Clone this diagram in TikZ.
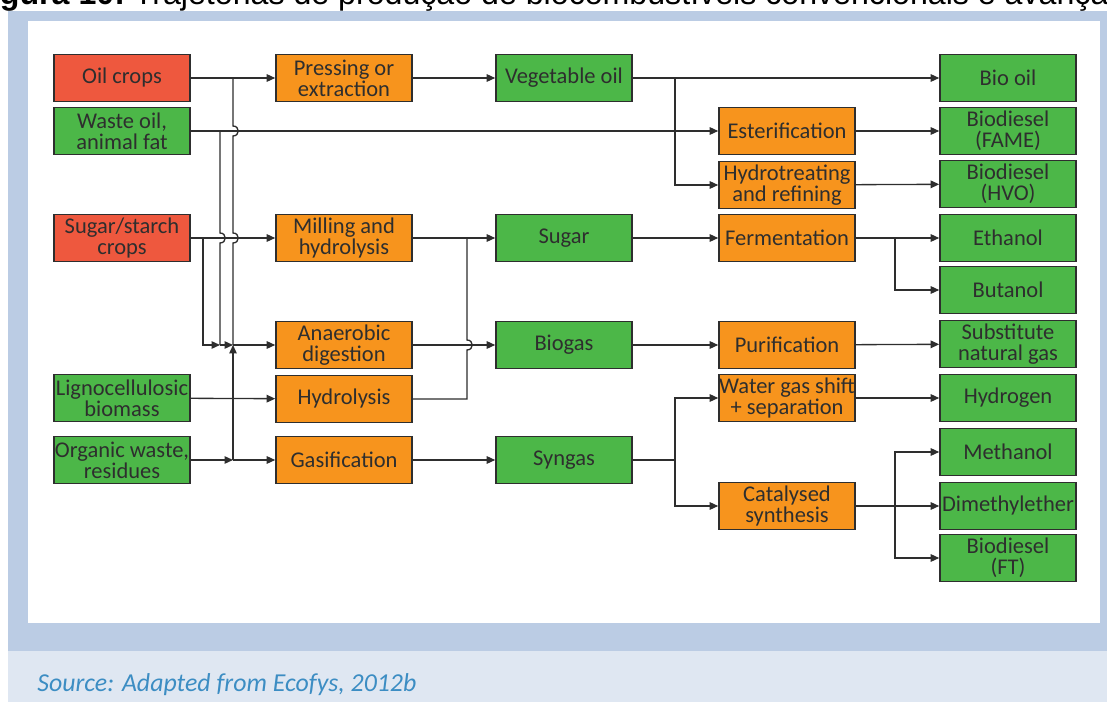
\documentclass[tikz,border=0pt]{standalone}
\usepackage{fontspec}
\setmainfont{Carlito}
\newfontfamily\capfont{Liberation Sans}
\usepackage{xcolor}
\usepackage{tikz}
\usetikzlibrary{arrows.meta}

\definecolor{feedred}{HTML}{EE583E}
\definecolor{procorange}{HTML}{F7941D}
\definecolor{prodgreen}{HTML}{4CB748}
\definecolor{frameblue}{HTML}{BBCCE4}
\definecolor{bandblue}{HTML}{DFE7F2}
\definecolor{srcblue}{HTML}{3C8DC3}
\definecolor{inkgray}{HTML}{2E2E2E}

\tikzset{
  box/.style={draw=inkgray, line width=0.9pt, minimum width=2.72cm, minimum height=0.94cm,
    inner sep=0pt, align=center, text=inkgray, font=\fontsize{12.8}{12}\selectfont},
  feed/.style={box, fill=feedred},
  proc/.style={box, fill=procorange},
  prod/.style={box, fill=prodgreen},
  link/.style={draw=inkgray, line width=0.75pt},
  flow/.style={link, -{Triangle[length=1.7mm,width=1.5mm]}},
}

\begin{document}
\begin{tikzpicture}[x=0.02cm, y=-0.02cm]
    \useasboundingbox (0,0) rectangle (1107,702);

    % Frame and caption
    \fill[bandblue] (8,651) rectangle (1107,702);
    \fill[frameblue] (8,11) rectangle (1107,651);
    \fill[white] (28,21) rectangle (1100,623);
    \node[anchor=base west, inner sep=0, font=\capfont\fontsize{18.3}{20}\selectfont] (caption) at (-29,5)
        {\bfseries Figura 10:\mdseries\ Trajetórias de produção de biocombustíveis convencionais e avançados};
    \node[anchor=base west, inner sep=0, text=srcblue, font=\itshape\fontsize{14.7}{16}\selectfont] (source) at (37,692)
        {Source: Adapted from Ecofys, 2012b};

    % Feedstocks
    \node[feed] (oilcrops) at (122,78) {Oil crops};
    \node[prod] (wasteoil) at (122,131) {Waste oil,\\animal fat};
    \node[feed] (sugarcrops) at (122,238) {Sugar/starch\\crops};
    \node[prod] (ligno) at (122,398) {Lignocellulosic\\biomass};
    \node[prod] (orgwaste) at (122,460) {Organic waste,\\residues};

    % Conversion steps
    \node[proc] (press) at (344,78) {Pressing or\\extraction};
    \node[proc] (milling) at (344,238) {Milling and\\hydrolysis};
    \node[proc] (anaer) at (344,345) {Anaerobic\\digestion};
    \node[proc] (hydrol) at (344,399) {Hydrolysis};
    \node[proc] (gasif) at (344,460) {Gasification};

    % Intermediates
    \node[prod] (vegoil) at (564,78) {Vegetable oil};
    \node[prod] (sugar) at (564,238) {Sugar};
    \node[prod] (biogas) at (564,345) {Biogas};
    \node[prod] (syngas) at (564,460) {Syngas};

    % Upgrading
    \node[proc] (ester) at (787,131) {Esterification};
    \node[proc] (hydrot) at (787,185) {Hydrotreating\\and refining};
    \node[proc] (ferm) at (787,238) {Fermentation};
    \node[proc] (purif) at (787,345) {Purification};
    \node[proc] (wgs) at (787,398) {Water gas shift\\+ separation};
    \node[proc] (catal) at (787,506) {Catalysed\\synthesis};

    % Biofuels
    \node[prod] (biooil) at (1008,78) {Bio oil};
    \node[prod] (fame) at (1008,131) {Biodiesel\\(FAME)};
    \node[prod] (hvo) at (1008,184) {Biodiesel\\(HVO)};
    \node[prod] (ethanol) at (1008,238) {Ethanol};
    \node[prod] (butanol) at (1008,290) {Butanol};
    \node[prod] (sng) at (1008,344) {Substitute\\natural gas};
    \node[prod] (hydrogen) at (1008,398) {Hydrogen};
    \node[prod] (methanol) at (1008,452) {Methanol};
    \node[prod] (dme) at (1008,506) {Dimethylether};
    \node[prod] (ftdiesel) at (1008,558) {Biodiesel\\(FT)};

    % Branch points
    \coordinate (oilbr) at (233,78);
    \coordinate (wastebr) at (220,131);
    \coordinate (sugbr) at (203,238);
    \coordinate (jw) at (220,345);
    \coordinate (jn) at (233,345);
    \coordinate (orgbr) at (233,460);
    \coordinate (hydbr) at (467,238);
    \coordinate (vegbr) at (675,78);
    \coordinate (fermbr) at (895,238);
    \coordinate (synbr) at (675,460);
    \coordinate (catbr) at (895,506);

    % Feedstock lines (vertical ones hop over the horizontals)
    \draw[flow] (oilcrops) -- (press);
    \draw[flow] (wasteoil) -- (ester);
    \draw[flow] (sugarcrops) -- (milling);
    \draw[flow] (ligno) -- (hydrol);
    \draw[link] (oilbr) -- (233,126) .. controls +(7,0) and +(7,0) .. (233,136)
        -- (233,233) .. controls +(7,0) and +(7,0) .. (233,243) -- (jn);
    \draw[link] (wastebr) -- (220,233) .. controls +(7,0) and +(7,0) .. (220,243) -- (jw);
    \draw[flow] (sugbr) |- (jw);
    \draw[flow] (jw) -- (jn);
    \draw[flow] (orgwaste) -- (orgbr);
    \draw[flow] (orgbr) -- (gasif);
    \draw[flow] (orgbr) -- (jn);
    \draw[flow] (jn) -- (anaer);

    % Middle
    \draw[flow] (press) -- (vegoil);
    \draw[flow] (milling) -- (sugar);
    \draw[link] (hydrol) -- (467,399) -- (467,350) .. controls +(7,0) and +(7,0) .. (467,340) -- (hydbr);
    \draw[flow] (anaer) -- (biogas);
    \draw[flow] (gasif) -- (syngas);

    % Right half
    \draw[flow] (vegoil) -- (biooil);
    \draw[flow] (vegbr) |- (hydrot);
    \draw[flow] (ester) -- (fame);
    \draw[flow] (hydrot) -- (hvo);
    \draw[flow] (sugar) -- (ferm);
    \draw[flow] (ferm) -- (ethanol);
    \draw[flow] (fermbr) |- (butanol);
    \draw[flow] (biogas) -- (purif);
    \draw[flow] (purif) -- (sng);
    \draw[link] (syngas) -- (synbr);
    \draw[flow] (synbr) |- (wgs);
    \draw[flow] (synbr) |- (catal);
    \draw[flow] (wgs) -- (hydrogen);
    \draw[flow] (catal) -- (dme);
    \draw[flow] (catbr) |- (methanol);
    \draw[flow] (catbr) |- (ftdiesel);
\end{tikzpicture}
\end{document}
